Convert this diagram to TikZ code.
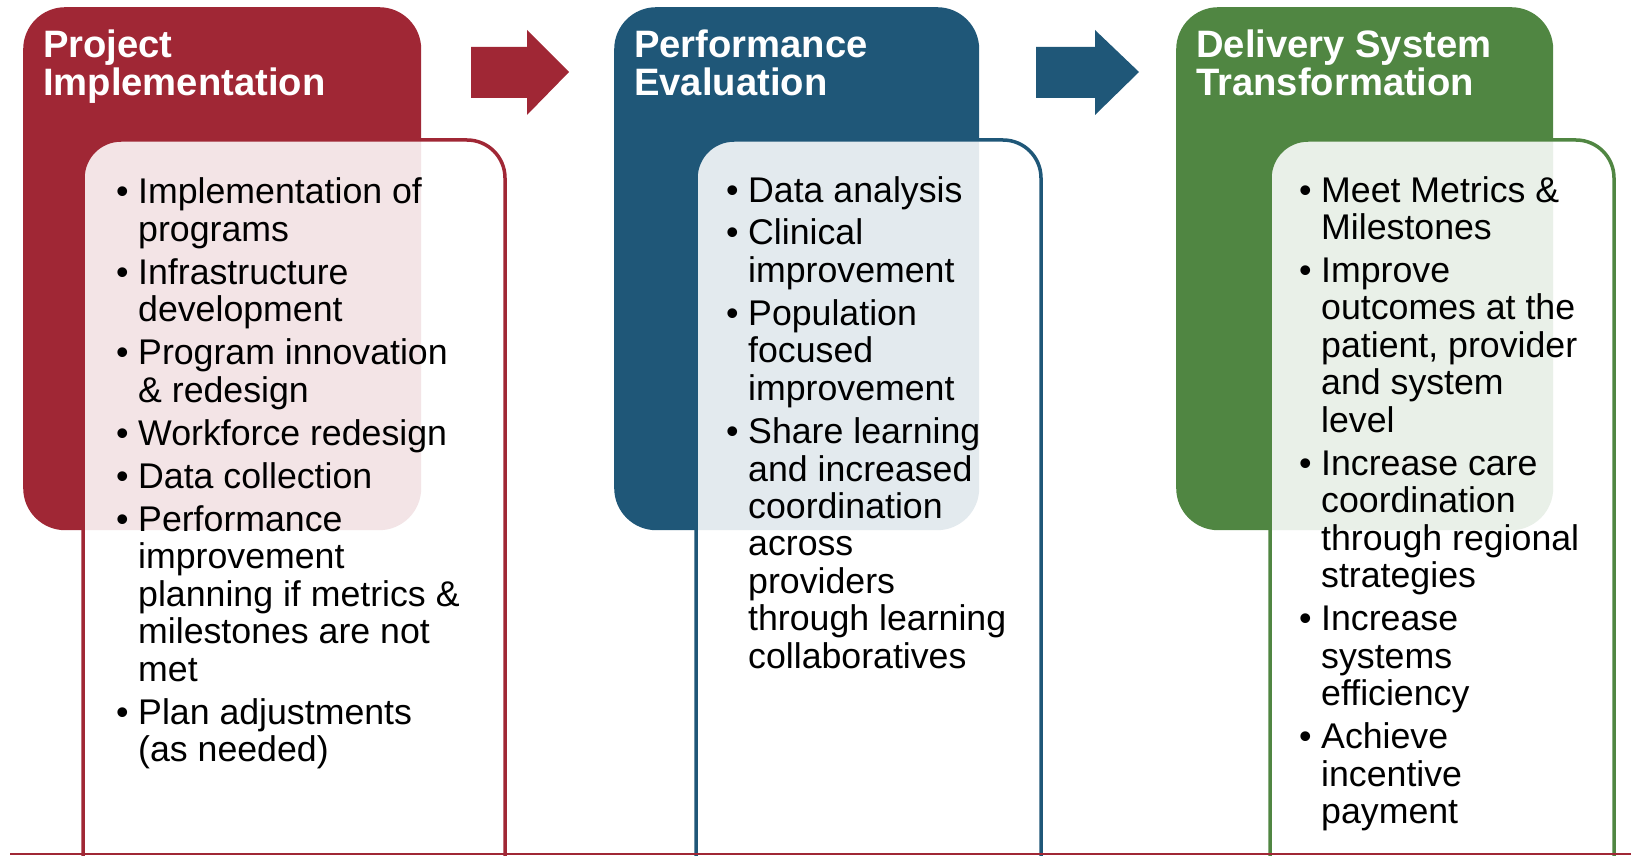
\documentclass[tikz,border=0pt]{standalone}
\usepackage{fontspec}
\setmainfont{Liberation Sans}
\definecolor{pred}{RGB}{160,39,53}
\definecolor{pblue}{RGB}{31,87,120}
\definecolor{pgreen}{RGB}{80,134,66}
\newcommand\bitem{\makebox[22pt][l]{\textbullet}}
\newcommand\bcont{\hspace*{22pt}}
\newcommand\gapline{\\[5.5pt]}
\tikzset{
  header/.style={fill=#1, draw=none, rounded corners=42pt, anchor=north west, inner sep=0pt, minimum height=523pt},
  boxfill/.style={fill=white, fill opacity=0.88, rounded corners=38pt},
  boxline/.style={draw=#1, line width=3.5pt, rounded corners=38pt},
  blockarrow/.style={fill=#1},
  titletext/.style={anchor=base west, inner sep=0pt, text=white, font=\bfseries\fontsize{38.2}{38}\selectfont},
  bodytext/.style={anchor=base west, inner sep=0pt, text=black, font=\fontsize{35.7}{37.5}\selectfont},
}
\begin{document}
\begin{tikzpicture}[x=1pt,y=-1pt]
\useasboundingbox (0,0) rectangle (1631,856);
\clip (0,0) rectangle (1631,856);
% headers
\node[header=pred, minimum width=398pt] (h1) at (23,7) {};
\node[header=pblue, minimum width=365pt] (h2) at (614,7) {};
\node[header=pgreen, minimum width=377pt] (h3) at (1176,7) {};
% block arrows
\fill[blockarrow=pred] (471,47) -- (527,47) -- (527,30) -- (569,72) -- (527,115) -- (527,98) -- (471,98) -- cycle;
\fill[blockarrow=pblue] (1036,47) -- (1095,47) -- (1095,30) -- (1139,72) -- (1095,115) -- (1095,98) -- (1036,98) -- cycle;
% text boxes
\fill[boxfill] (83,900) -- (83,140) -- (505,140) -- (505,900) -- cycle;
\draw[boxline=pred] (83,900) -- (83,140) -- (505,140) -- (505,900);
\fill[boxfill] (696,900) -- (696,140) -- (1041,140) -- (1041,900) -- cycle;
\draw[boxline=pblue] (696,900) -- (696,140) -- (1041,140) -- (1041,900);
\fill[boxfill] (1270,900) -- (1270,140) -- (1614,140) -- (1614,900) -- cycle;
\draw[boxline=pgreen] (1270,900) -- (1270,140) -- (1614,140) -- (1614,900);
% bottom rule
\draw[pred, line width=2.5pt] (10,854) -- (1631,854);
% titles
\node[titletext] (t1) at (43,58) {\parbox[t]{380pt}{Project\\Implementation}};
\node[titletext] (t2) at (634,58) {\parbox[t]{380pt}{Performance\\Evaluation}};
\node[titletext] (t3) at (1196,58) {\parbox[t]{380pt}{Delivery System\\Transformation}};
% lists
\node[bodytext] (l1) at (116,204) {\parbox[t]{400pt}{\raggedright
\bitem Implementation of\\ \bcont programs\gapline
\bitem Infrastructure\\ \bcont development\gapline
\bitem Program innovation\\ \bcont \& redesign\gapline
\bitem Workforce redesign\gapline
\bitem Data collection\gapline
\bitem Performance\\ \bcont improvement\\ \bcont planning if metrics \&\\ \bcont milestones are not\\ \bcont met\gapline
\bitem Plan adjustments\\ \bcont (as needed)}};
\node[bodytext] (l2) at (726,202) {\parbox[t]{400pt}{\raggedright
\bitem Data analysis\gapline
\bitem Clinical\\ \bcont improvement\gapline
\bitem Population\\ \bcont focused\\ \bcont improvement\gapline
\bitem Share learning\\ \bcont and increased\\ \bcont coordination\\ \bcont across\\ \bcont providers\\ \bcont through learning\\ \bcont collaboratives}};
\node[bodytext] (l3) at (1299,202) {\parbox[t]{400pt}{\raggedright
\bitem Meet Metrics \&\\ \bcont Milestones\gapline
\bitem Improve\\ \bcont outcomes at the\\ \bcont patient, provider\\ \bcont and system\\ \bcont level\gapline
\bitem Increase care\\ \bcont coordination\\ \bcont through regional\\ \bcont strategies\gapline
\bitem Increase\\ \bcont systems\\ \bcont efficiency\gapline
\bitem Achieve\\ \bcont incentive\\ \bcont payment}};
\end{tikzpicture}
\end{document}
